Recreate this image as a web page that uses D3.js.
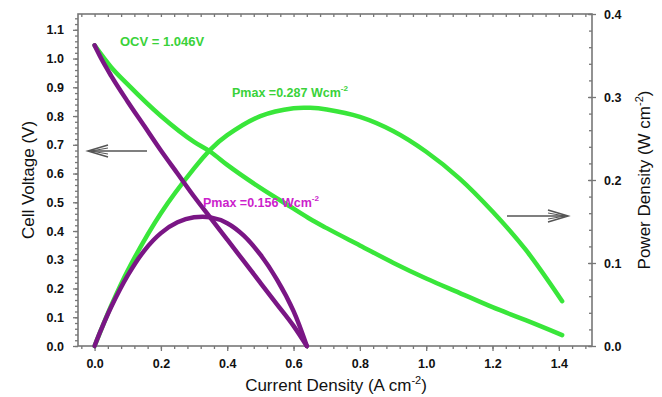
<!DOCTYPE html>
<html>
<head>
<meta charset="utf-8">
<script src="https://cdn.jsdelivr.net/npm/d3@7"></script>
<style>
  body { margin: 0; background: #fff; }
  text { font-family: "Liberation Sans", Arial, sans-serif; }
</style>
</head>
<body>
<svg width="662" height="397"></svg>
<script>
// current density (A cm-2) for each cell
var currentA = [0, 0.02, 0.05, 0.1, 0.15, 0.2, 0.25, 0.3, 0.35, 0.4, 0.45, 0.5, 0.55, 0.6, 0.64];
var voltageA = [1.046, 1.0, 0.94, 0.85, 0.765, 0.68, 0.6, 0.52, 0.445, 0.37, 0.295, 0.22, 0.145, 0.07, 0.0];
var powerA   = [0, 0.02, 0.047, 0.085, 0.115, 0.136, 0.149, 0.155, 0.155, 0.148, 0.133, 0.110, 0.080, 0.042, 0.0];

var currentB = [0, 0.05, 0.1, 0.2, 0.3, 0.35, 0.4, 0.5, 0.6, 0.65, 0.7, 0.8, 0.9, 1.0, 1.1, 1.2, 1.3, 1.41];
var voltageB = [1.046, 0.97, 0.91, 0.80, 0.71, 0.675, 0.63, 0.55, 0.478, 0.442, 0.41, 0.35, 0.29, 0.235, 0.185, 0.135, 0.09, 0.038];
var powerB   = [0, 0.0485, 0.091, 0.16, 0.214, 0.237, 0.254, 0.277, 0.2865, 0.287, 0.285, 0.276, 0.259, 0.234, 0.202, 0.162, 0.116, 0.054];

var xTicks = [0, 0.2, 0.4, 0.6, 0.8, 1.0, 1.2, 1.4];
var yTicksLeft = [0, 0.1, 0.2, 0.3, 0.4, 0.5, 0.6, 0.7, 0.8, 0.9, 1.0, 1.1];
var yTicksRight = [0, 0.1, 0.2, 0.3, 0.4];

var green = "#39e63a", purple = "#7a1685", frameCol = "#777";

var svg = d3.select("svg");
var pL = 78, pR = 592, pT = 14, pB = 346;

var x = d3.scaleLinear().domain([-0.05, 1.5]).range([pL, pR]);
var yV = d3.scaleLinear().domain([0, 1.155]).range([pB, pT]);
var yP = d3.scaleLinear().domain([0, 0.4]).range([pB, pT]);

var minorX = d3.range(-0.04, 1.5, 0.04);
var minorL = d3.range(0, 1.151, 0.02);
var minorR = d3.range(0, 0.401, 0.02);

function styleAxis(g) {
  g.selectAll(".domain").remove();
  g.selectAll(".tick line").attr("stroke", frameCol).attr("stroke-width", 1.3);
}

// minor ticks
svg.append("g").attr("transform", "translate(0," + pB + ")")
  .call(d3.axisBottom(x).tickValues(minorX).tickSize(3).tickFormat(""))
  .call(styleAxis);
svg.append("g").attr("transform", "translate(0," + pT + ")")
  .call(d3.axisTop(x).tickValues(minorX).tickSize(-3).tickFormat(""))
  .call(styleAxis);
svg.append("g").attr("transform", "translate(" + pL + ",0)")
  .call(d3.axisLeft(yV).tickValues(minorL).tickSize(3).tickFormat(""))
  .call(styleAxis);
svg.append("g").attr("transform", "translate(" + pR + ",0)")
  .call(d3.axisRight(yP).tickValues(minorR).tickSize(-3).tickFormat(""))
  .call(styleAxis);

// major ticks + labels
svg.append("g").attr("transform", "translate(0," + pB + ")")
  .call(d3.axisBottom(x).tickValues(xTicks).tickSize(5).tickPadding(8).tickFormat(d3.format(".1f")))
  .call(styleAxis);
svg.append("g").attr("transform", "translate(" + pL + ",0)")
  .call(d3.axisLeft(yV).tickValues(yTicksLeft).tickSize(5).tickPadding(9).tickFormat(d3.format(".1f")))
  .call(styleAxis);
var yAxisR = svg.append("g").attr("transform", "translate(" + pR + ",0)")
  .call(d3.axisRight(yP).tickValues(yTicksRight).tickSize(4).tickPadding(8).tickFormat(d3.format(".1f")))
  .call(styleAxis);
yAxisR.selectAll(".tick line").attr("x1", -4);

svg.selectAll(".tick text")
  .attr("fill", "#111").attr("font-size", 12.5).attr("font-weight", "bold")
  .style("font-family", "'Liberation Sans', Arial, sans-serif");

// frame
svg.append("rect").attr("x", pL).attr("y", pT)
  .attr("width", pR - pL).attr("height", pB - pT)
  .attr("fill", "none").attr("stroke", frameCol).attr("stroke-width", 1.6);

// curves
var lineV = d3.line().x(function(d) { return x(d[0]); }).y(function(d) { return yV(d[1]); }).curve(d3.curveMonotoneX);
var lineP = d3.line().x(function(d) { return x(d[0]); }).y(function(d) { return yP(d[1]); }).curve(d3.curveCatmullRom);

function draw(cur, vals, fn, col) {
  svg.append("path").datum(d3.zip(cur, vals))
    .attr("d", fn).attr("fill", "none").attr("stroke", col)
    .attr("stroke-width", 4.5).attr("stroke-linecap", "round");
}
draw(currentB, voltageB, lineV, green);
draw(currentB, powerB, lineP, green);
draw(currentA, voltageA, lineV, purple);
draw(currentA, powerA, lineP, purple);

// arrows
function arrow(x1, x2, y) {
  var dir = x2 > x1 ? -1 : 1;
  var g = svg.append("g").attr("stroke", "#555").attr("stroke-width", 1.6).attr("fill", "none");
  g.append("line").attr("x1", x1).attr("x2", x2 + dir * 2).attr("y1", y).attr("y2", y);
  g.append("path").attr("d", "M" + (x2 + dir * 20) + "," + (y - 6) + "L" + x2 + "," + y + "L" + (x2 + dir * 20) + "," + (y + 6));
  g.append("path").attr("d", "M" + (x2 + dir * 20) + "," + (y - 3) + "L" + (x2 + dir * 3) + "," + y + "L" + (x2 + dir * 20) + "," + (y + 3)).attr("stroke-width", 1);
}
arrow(147, 88, 151);
arrow(507, 568, 216);

// annotations
function note(tx, ty, col, main, sup, size) {
  var t = svg.append("text").attr("x", tx).attr("y", ty).attr("fill", col)
    .attr("font-size", size).attr("font-weight", "bold");
  t.append("tspan").text(main);
  if (sup) {
    t.append("tspan").attr("dy", -6).attr("font-size", size * 0.65).text(sup);
  }
}
note(120, 46, "#3ad23a", "OCV = 1.046V", null, 13);
note(232, 97, "#3ad23a", "Pmax =0.287 Wcm", "-2", 12.5);
note(203, 207, "#cc1fcc", "Pmax =0.156 Wcm", "-2", 12.5);

// axis titles
var xt = svg.append("text").attr("x", 336).attr("y", 391).attr("text-anchor", "middle")
  .attr("font-size", 17).attr("fill", "#111");
xt.append("tspan").text("Current Density (A cm");
xt.append("tspan").attr("dy", -7).attr("font-size", 11).text("-2");
xt.append("tspan").attr("dy", 7).text(")");

svg.append("text").attr("transform", "translate(34,180) rotate(-90)")
  .attr("text-anchor", "middle").attr("font-size", 17).attr("fill", "#111")
  .text("Cell Voltage (V)");

var rt = svg.append("text").attr("transform", "translate(650,180) rotate(-90)")
  .attr("text-anchor", "middle").attr("font-size", 17).attr("fill", "#111");
rt.append("tspan").text("Power Density (W cm");
rt.append("tspan").attr("dy", -7).attr("font-size", 11).text("-2");
rt.append("tspan").attr("dy", 7).text(")");
</script>
</body>
</html>
